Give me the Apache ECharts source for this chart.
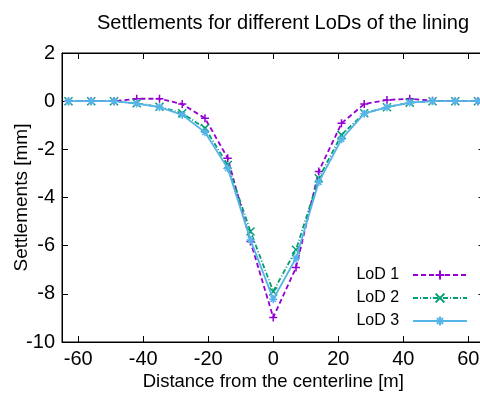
<!DOCTYPE html>
<html>
<head>
<meta charset="utf-8">
<script src="https://cdn.jsdelivr.net/npm/echarts@6/dist/echarts.min.js"></script>
<style>html,body{margin:0;padding:0;background:#fff;}#c{width:480px;height:394px;}</style>
</head>
<body>
<div id="c"></div>
<script>
const distances = [-63,-56,-49,-42,-35,-28,-21,-14,-7,0,7,14,21,28,35,42,49,56,63];
const lod1 = [0,0,0,0.1,0.1,-0.12,-0.71,-2.37,-5.83,-8.98,-6.91,-2.92,-0.92,-0.12,0.05,0.1,0.02,0,0];
const lod2 = [0,0,0,-0.09,-0.23,-0.5,-1.12,-2.65,-5.41,-7.9,-6.17,-3.2,-1.4,-0.5,-0.25,-0.06,0,0,0];
const lod3 = [0,0,0,-0.1,-0.25,-0.57,-1.29,-2.79,-5.76,-8.22,-6.52,-3.36,-1.58,-0.52,-0.25,-0.06,0,0,0];
const xTicks = [-60,-40,-20,0,20,40,60];
const seriesNames = ['LoD 1','LoD 2','LoD 3'];
const titleText = 'Settlements for different LoDs of the lining';
const xName = 'Distance from the centerline [m]';
const yName = 'Settlements [mm]';

const FONT = 'Liberation Sans, Arial, sans-serif';
function pairs(ys){ return distances.map((x,i)=>[x, ys[i]]); }
const colors = ['#9400d3','#009e73','#56b4e9'];
const symbols = [
  'path://M5,0L5,10M0,5L10,5',
  'path://M0,0L10,10M10,0L0,10',
  'path://M5,0L5,10M0,5L10,5M1.5,1.5L8.5,8.5M8.5,1.5L1.5,8.5'
];
const dashes = [[5,3],[5,2,1,2],'solid'];
const datas = [lod1, lod2, lod3];

const chart = echarts.init(document.getElementById('c'), null, {renderer:'canvas'});
function tick(extra){ return Object.assign({show:true, inside:true, length:6, lineStyle:{color:'#000', width:1}}, extra||{}); }
function aline(){ return {show:true, onZero:false, lineStyle:{color:'#000', width:1}}; }
chart.setOption({
  animation:false,
  backgroundColor:'#fff',
  title:{text:titleText, left:92, top:8, textStyle:{fontFamily:FONT, fontSize:20, fontWeight:'normal', color:'#000'}},
  grid:{left:62, top:53, right:-4.5, bottom:52, containLabel:false, outerBoundsMode:'none',
        show:true, borderColor:'#000', borderWidth:1, backgroundColor:'transparent'},
  legend:{
    orient:'vertical', right:12, top:267, align:'right', padding:0,
    itemWidth:54, itemHeight:11, itemGap:7,
    formatter: name => name + '  ',
    textStyle:{fontFamily:FONT, fontSize:16, color:'#000'},
    data: seriesNames
  },
  xAxis:[{
    type:'value', min:-65, max:65, position:'bottom',
    name:xName, nameLocation:'middle', nameGap:30, nameMoveOverlap:false,
    nameTextStyle:{fontFamily:FONT, fontSize:18.5, color:'#000'},
    axisLine:aline(),
    axisTick:tick({customValues:xTicks}),
    axisLabel:{customValues:xTicks, fontFamily:FONT, fontSize:20, color:'#000', margin:7},
    splitLine:{show:false}
  },{
    type:'value', min:-65, max:65, position:'top',
    axisLine:aline(),
    axisTick:tick({customValues:xTicks}),
    axisLabel:{show:false},
    splitLine:{show:false}
  }],
  yAxis:[{
    type:'value', min:-10, max:2, interval:2, position:'left',
    name:yName, nameLocation:'middle', nameGap:31, nameMoveOverlap:false,
    nameTextStyle:{fontFamily:FONT, fontSize:19, color:'#000'},
    axisLine:aline(),
    axisTick:tick(),
    axisLabel:{fontFamily:FONT, fontSize:20, color:'#000', margin:7},
    splitLine:{show:false}
  },{
    type:'value', min:-10, max:2, interval:2, position:'right',
    axisLine:aline(),
    axisTick:tick(),
    axisLabel:{show:false},
    splitLine:{show:false}
  }],
  series: seriesNames.map((n,i)=>({
    name:n, type:'line', data:pairs(datas[i]),
    symbol:symbols[i], symbolSize:8, showSymbol:true,
    itemStyle:{color:colors[i], borderColor:colors[i], borderWidth:1.5},
    lineStyle:{color:colors[i], width:1.8, type:dashes[i]},
    z:2+i
  }))
});
</script>
</body>
</html>
